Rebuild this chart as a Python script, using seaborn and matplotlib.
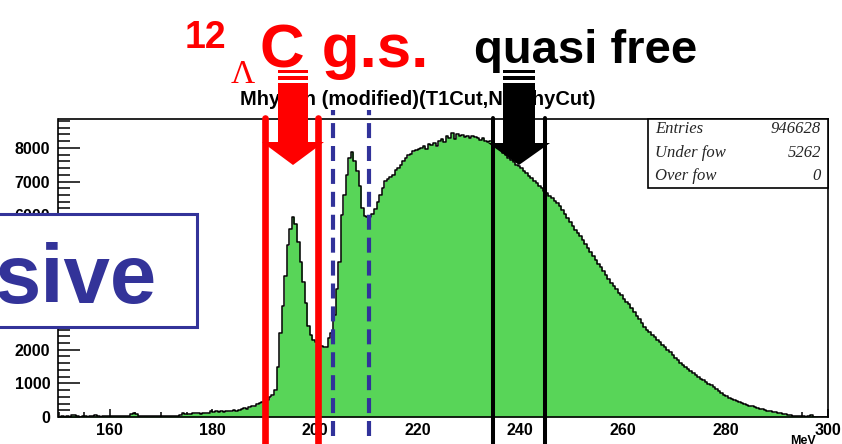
import numpy as np
import pandas as pd
import matplotlib
matplotlib.use("Agg")
import matplotlib.pyplot as plt
import seaborn as sns
from matplotlib.patches import Polygon, Rectangle
from matplotlib.ticker import MultipleLocator

# ---------------- data (0.5 MeV bins, 150-300 MeV) ----------------
bin_start = 150.0
bin_width = 0.5
counts_150_190 = [10, 20, 10, 20, 10, 60, 60, 20, 10, 20,
                  30, 10, 20, 20, 50, 20, 10, 30, 20, 20,
                  30, 20, 20, 30, 20, 30, 20, 30, 100, 110,
                  100, 30, 20, 30, 30, 20, 30, 20, 30, 30,
                  30, 40, 30, 40, 30, 40, 40, 50, 110, 100,
                  90, 100, 120, 110, 120, 100, 130, 120, 130, 170,
                  150, 180, 160, 170, 150, 190, 180, 170, 200, 190,
                  220, 240, 260, 250, 290, 320, 330, 380, 410, 450]
counts_190_230 = [460, 500, 580, 650, 800, 1500, 2500, 3300, 4200, 5100,
                  5600, 5950, 5750, 5200, 4600, 4000, 3400, 2700, 2450, 2300,
                  2220, 2180, 2100, 2080, 2090, 2350, 2500, 3040, 3800, 4600,
                  6000, 6600, 7200, 7700, 7880, 7600, 7300, 6870, 6200, 5980,
                  5940, 5950, 6050, 6180, 6400, 6600, 6800, 7010, 7080, 7130,
                  7200, 7350, 7400, 7500, 7610, 7700, 7780, 7830, 7900, 7950,
                  7970, 8000, 8050, 7980, 8120, 8100, 8150, 8050, 8200, 8280,
                  8180, 8350, 8300, 8450, 8280, 8400, 8350, 8380, 8330, 8350]
counts_230_260 = [8300, 8360, 8320, 8300, 8250, 8300, 8200, 8180, 8200, 8100,
                  8050, 8000, 7950, 7850, 7800, 7700, 7650, 7570, 7500, 7450,
                  7400, 7320, 7250, 7180, 7100, 7020, 6950, 6880, 6800, 6730,
                  6650, 6570, 6500, 6420, 6350, 6280, 6150, 6050, 5920, 5800,
                  5680, 5570, 5480, 5380, 5250, 5150, 5030, 4900, 4800, 4680,
                  4560, 4450, 4330, 4220, 4100, 3990, 3900, 3800, 3700, 3620]
counts_260_300 = [3500, 3420, 3350, 3250, 3130, 3000, 2900, 2780, 2680, 2600,
                  2520, 2440, 2370, 2300, 2220, 2150, 2070, 1990, 1920, 1840,
                  1760, 1690, 1620, 1560, 1500, 1430, 1370, 1300, 1250, 1190,
                  1140, 1090, 1040, 980, 940, 880, 830, 770, 720, 660,
                  610, 570, 540, 500, 470, 440, 410, 390, 360, 340,
                  320, 300, 270, 250, 230, 210, 190, 170, 150, 140,
                  130, 110, 100, 80, 70, 60, 40, 40, 30, 20,
                  20, 10, 20, 60, 10, 10, 0, 10, 0, 0]

title_text = "Mhypen (modified)(T1Cut,NoMhyCut)"
stats_labels = ["Entries", "Under fow", "Over fow"]
stats_values = ["946628", "5262", "0"]
gs_cuts = [190.25, 200.6]        # red solid lines
mid_cuts = [203.5, 210.5]        # blue dashed lines
qf_cuts = [234.7, 244.8]         # black solid lines
x_unit = "MeV"

counts = counts_150_190 + counts_190_230 + counts_230_260 + counts_260_300
centers = bin_start + bin_width * (np.arange(len(counts)) + 0.5)
df = pd.DataFrame({"mass": centers, "count": counts})
bin_range = (bin_start, bin_start + bin_width * len(counts))

# ---------------- figure ----------------
sns.set_theme(style="white")
plt.rcParams["font.family"] = ["Liberation Sans", "DejaVu Sans"]

W, H = 842, 444
fig = plt.figure(figsize=(W / 100, H / 100), dpi=100)
L, R, T, B = 58.5, 828, 119, 417
ax = fig.add_axes([L / W, 1 - B / H, (R - L) / W, (B - T) / H])

green = "#58d558"
sns.histplot(data=df, x="mass", weights="count", binwidth=bin_width, binrange=bin_range,
             element="step", fill=True, color=green, alpha=1, linewidth=0, ax=ax, zorder=1)
sns.histplot(data=df, x="mass", weights="count", binwidth=bin_width, binrange=bin_range,
             element="step", fill=False, color="black", linewidth=1.1, ax=ax, zorder=2)

ax.set_xlim(150, 300)
ax.set_ylim(0, 8860)
ax.set_xlabel("")
ax.set_ylabel("")
for s in ax.spines.values():
    s.set_visible(True)
    s.set_color("black")
    s.set_linewidth(1.2)

ax.xaxis.set_major_locator(MultipleLocator(20))
ax.xaxis.set_minor_locator(MultipleLocator(5))
ax.yaxis.set_major_locator(MultipleLocator(1000))
ax.yaxis.set_minor_locator(MultipleLocator(200))
ax.tick_params(axis="x", which="major", direction="in", bottom=True, top=False,
               length=6, width=1.1, color="black", labelsize=11.5, pad=4)
ax.tick_params(axis="x", which="minor", direction="in", bottom=True, top=False,
               length=3.5, width=1.1, color="black")
ax.tick_params(axis="y", which="major", direction="in", left=True, right=False,
               length=16, width=1.1, color="black", labelsize=11.5, pad=6)
ax.tick_params(axis="y", which="minor", direction="in", left=True, right=False,
               length=8.5, width=1.1, color="black")
for lbl in ax.get_xticklabels() + ax.get_yticklabels():
    lbl.set_fontweight("bold")
    lbl.set_color("black")

# cut lines (extend beyond the frame)
for xc in gs_cuts:
    ax.axvline(xc, ymin=-0.1, ymax=1.004, color="#ff0000", lw=4.8, clip_on=False, zorder=5)
for xc in mid_cuts:
    ax.axvline(xc, ymin=-0.064, ymax=1.03, color="#31329a", lw=3.0,
               dashes=(3.6, 1.9), clip_on=False, zorder=5)
for xc in qf_cuts:
    ax.axvline(xc, ymin=-0.1, ymax=1.003, color="black", lw=2.9, clip_on=False, zorder=5)

# ---------------- overlay (pixel coordinates) ----------------
ov = fig.add_axes([0, 0, 1, 1], zorder=10)
ov.set_xlim(0, W)
ov.set_ylim(H, 0)
ov.axis("off")
ov.patch.set_alpha(0)

ov.text(240, 105, title_text, ha="left", va="baseline", fontsize=14.5,
        fontweight="bold", color="black", zorder=2)

def arrow(cx, shaft_half, head_half, y_head, y_tip, color):
    for y0, y1 in [(70, 73), (76, 80)]:
        ov.add_patch(Rectangle((cx - shaft_half, y0), 2 * shaft_half, y1 - y0,
                               facecolor=color, edgecolor="none", zorder=6))
    ov.add_patch(Polygon([(cx - shaft_half, 83), (cx + shaft_half, 83),
                          (cx + shaft_half, y_head), (cx + head_half, y_head),
                          (cx, y_tip), (cx - head_half, y_head),
                          (cx - shaft_half, y_head)],
                         closed=True, facecolor=color, edgecolor="none", zorder=6))

arrow(293, 15, 31, 142, 165, "#ff0000")
arrow(519, 16, 31, 143, 165, "black")

# stats box
ov.add_patch(Rectangle((648, 119), 180, 69, facecolor="white", edgecolor="black",
                       lw=1.2, zorder=4))
for i, (lab, val) in enumerate(zip(stats_labels, stats_values)):
    yb = 133 + i * 23.5
    ov.text(655, yb, lab, ha="left", va="baseline", fontsize=12, style="italic",
            family=["Liberation Serif", "DejaVu Serif"], zorder=5)
    ov.text(821, yb, val, ha="right", va="baseline", fontsize=12, style="italic",
            family=["Liberation Serif", "DejaVu Serif"], zorder=5)

# headline annotations
ov.text(185, 48, "12", ha="left", va="baseline", fontsize=27, fontweight="bold",
        color="#ff0000", zorder=7)
ov.text(231, 83, "Λ", ha="left", va="baseline", fontsize=24,
        family=["Liberation Serif", "DejaVu Serif"], color="#ff0000", zorder=7)
ov.text(260, 67, "C g.s.", ha="left", va="baseline", fontsize=44.5, fontweight="bold",
        color="#ff0000", zorder=7)
ov.text(474, 63, "quasi free", ha="left", va="baseline", fontsize=34,
        fontweight="bold", color="black", zorder=7)

# partially visible label box
ov.add_patch(Rectangle((-20, 214), 217, 113, facecolor="white", edgecolor="#333399",
                       lw=2.2, zorder=8))
ov.text(156, 303, "sive", ha="right", va="baseline", fontsize=60, fontweight="bold",
        color="#333399", zorder=9)

ov.text(816, 444, x_unit, ha="right", va="baseline", fontsize=9, fontweight="bold",
        color="black", zorder=7)

fig.savefig("out.png", dpi=100)
